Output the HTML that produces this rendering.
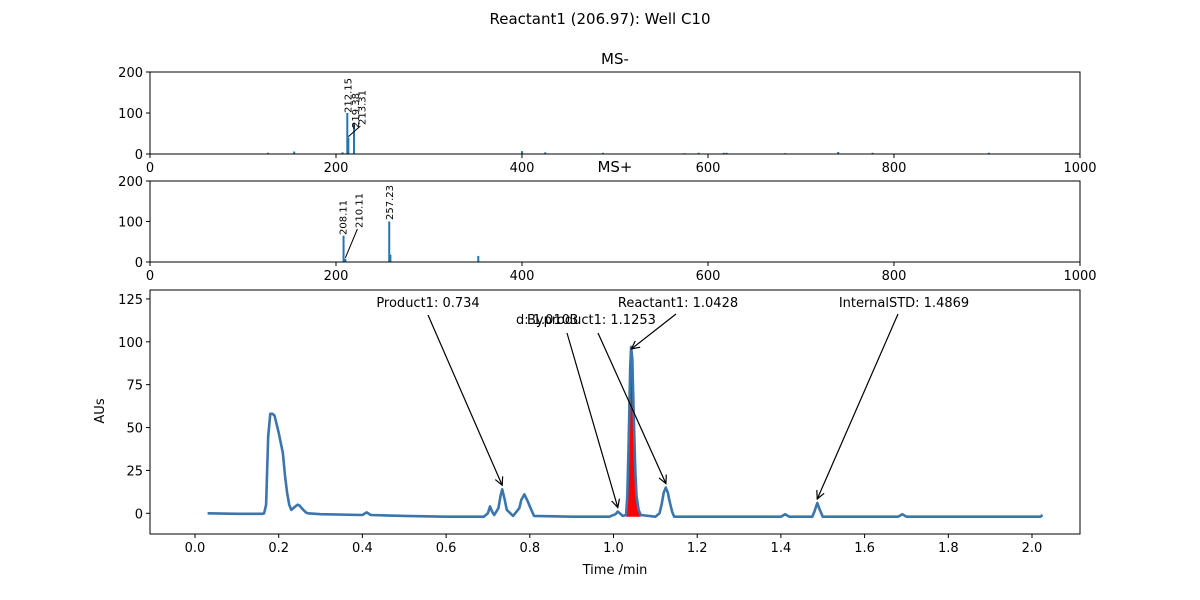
<!DOCTYPE html>
<html><head><meta charset="utf-8"><style>
body{margin:0;background:#fff;}
svg{display:block;font-family:"DejaVu Sans","Liberation Sans",sans-serif;}
</style></head><body>
<svg id="chart" width="1200" height="600" viewBox="0 0 1200 600">
<text x="600" y="24" font-size="15" text-anchor="middle">Reactant1 (206.97): Well C10</text>
<g id="msneg"></g>
<g id="mspos"></g>
<g id="chrom"></g>
</svg>
<script>
// MS- data
const msNegMz = [127,155,207,212.15,213.31,219.38,265,400,425,487,575,590,617,620,683,740,777,880,902];
const msNegInt = [3,6,4,100,40,72,1,7,4,3,2,3,3,3,2,5,3,1,3];
const msNegLabels = ["212.15","219.38","213.31"];
// MS+ data
const msPosMz = [208.11,210.11,257.23,258.5,353];
const msPosInt = [65,8,100,18,15];
const msPosLabels = ["208.11","210.11","257.23"];
const msTicks = [0,200,400,600,800,1000];
const msYTicks = [0,100,200];
// chromatogram data
const chromT = [0.03,0.1,0.16,0.165,0.17,0.175,0.18,0.185,0.19,0.2,0.21,0.215,0.22,0.225,0.23,0.24,0.245,0.25,0.255,0.265,0.27,0.3,0.4,0.41,0.42,0.5,0.6,0.69,0.7,0.705,0.71,0.715,0.725,0.73,0.734,0.74,0.745,0.76,0.775,0.78,0.787,0.795,0.8,0.81,0.9,0.99,1.005,1.01,1.015,1.022,1.03,1.033,1.036,1.04,1.042,1.045,1.048,1.052,1.055,1.06,1.065,1.1,1.11,1.115,1.12,1.125,1.13,1.133,1.14,1.145,1.2,1.4,1.41,1.42,1.475,1.48,1.487,1.493,1.5,1.68,1.69,1.7,2.02,2.025];
const chromY = [0,-0.3,-0.3,0,5,45,58,58,57,47,35,22,12,5,2,4,5,4.5,3,0.5,0,-0.5,-1,0.5,-1,-1.5,-2,-2,0,4,1,-1,3,10,14,8,2,-1.5,3,8,11,7,4,-1.5,-2,-2,-0.5,1,0,-1.5,-1,10,40,85,97,90,60,25,10,2,-1,-2,0,5,12,15,12,8,1,-2,-2,-2,-0.5,-2,-2,1,6,2,-2,-2,-0.5,-2,-2,-1];
const chromXTicks = [0.0,0.2,0.4,0.6,0.8,1.0,1.2,1.4,1.6,1.8,2.0];
const chromYTicks = [0,25,50,75,100,125];
const peakNames = ["Product1: 0.734","d: 1.0103","Byproduct1: 1.1253","Reactant1: 1.0428","InternalSTD: 1.4869"];
const peakT = [0.734,1.0103,1.1253,1.0428,1.4869];
const peakY = [14,1,15,97,6];
const fillRange = [1.03,1.065];

const NS="http://www.w3.org/2000/svg";
function mk(tag,attrs,parent,txt){const e=document.createElementNS(NS,tag);for(const k in attrs)e.setAttribute(k,attrs[k]);if(txt!==undefined)e.textContent=txt;parent.appendChild(e);return e;}

function msPanel(g,top,bottom,mz,inten,labels,labDx,labY,title,titleY){
  const L=150,R=1080;
  const x=v=>L+(v/1000)*(R-L);
  const y=v=>bottom-(v/200)*(bottom-top);
  mz.forEach((m,i)=>{
    const b=mk('rect',{x:x(m)-1,y:y(inten[i]),width:2,height:bottom-y(inten[i]),fill:'#1f77b4'},g);
    
    
  });
  labels.forEach((lab,i)=>{
    const m=parseFloat(lab);
    const v=inten[mz.indexOf(m)];
    const lx=x(m)+labDx[i], ly=labY[i];
    if(Math.abs(ly-y(v))>3||Math.abs(labDx[i])>1){
      mk('line',{x1:x(m),y1:y(v)-1,x2:lx-1,y2:ly+1,stroke:'#000','stroke-width':1},g);
    }
    const t=mk('text',{x:lx+4,y:ly,'font-size':10,transform:`rotate(-90 ${lx+4} ${ly})`},g,lab);
    
    
  });
  mk('rect',{x:L,y:top,width:R-L,height:bottom-top,fill:'none',stroke:'#000','stroke-width':1},g);
  msTicks.forEach(t=>{mk('line',{x1:x(t),y1:bottom,x2:x(t),y2:bottom+4,stroke:'#000'},g);
    const tl=mk('text',{x:x(t),y:bottom+18,'font-size':13,'text-anchor':'middle'},g,String(t));
    });
  msYTicks.forEach(t=>{mk('line',{x1:L-4,y1:y(t),x2:L,y2:y(t),stroke:'#000'},g);
    const tl=mk('text',{x:L-7,y:y(t)+5,'font-size':13,'text-anchor':'end'},g,String(t));
    });
  const tt=mk('text',{x:615,y:titleY,'font-size':15,'text-anchor':'middle'},g,title);
  
}
msPanel(document.getElementById('msneg'),72,154,msNegMz,msNegInt,msNegLabels,[0,1,13],[113,128,125],'MS-',64);
msPanel(document.getElementById('mspos'),181,262,msPosMz,msPosInt,msPosLabels,[-1,13,0],[235,228,220],'MS+',172);

(function(){
  const g=document.getElementById('chrom');
  const L=150,R=1080,T=290,B=534;
  const x=v=>195+v*418.5;
  const y=v=>513.3-v*1.715;
  let fp=[];
  chromT.forEach((t,i)=>{if(t>=fillRange[0]&&t<=fillRange[1])fp.push([x(t),y(chromY[i])]);});
  const fd='M'+fp[0][0]+','+y(-2)+' '+fp.map(p=>'L'+p[0]+','+p[1]).join(' ')+' L'+fp[fp.length-1][0]+','+y(-2)+'Z';
  const f=mk('path',{d:fd,fill:'#ff0000'},g);
  
  const d=chromT.map((t,i)=>(i?'L':'M')+x(t).toFixed(1)+','+y(chromY[i]).toFixed(1)).join(' ');
  const ln=mk('path',{d:d,fill:'none',stroke:'#3a76ad','stroke-width':2.6,'stroke-linejoin':'round'},g);
  
  mk('rect',{x:L,y:T,width:R-L,height:B-T,fill:'none',stroke:'#000'},g);
  chromXTicks.forEach(t=>{mk('line',{x1:x(t),y1:B,x2:x(t),y2:B+4,stroke:'#000'},g);
    const tl=mk('text',{x:x(t),y:B+18,'font-size':13,'text-anchor':'middle'},g,t.toFixed(1));
    });
  chromYTicks.forEach(t=>{mk('line',{x1:L-4,y1:y(t),x2:L,y2:y(t),stroke:'#000'},g);
    const tl=mk('text',{x:L-7,y:y(t)+5,'font-size':13,'text-anchor':'end'},g,String(t));
    });
  const xt=mk('text',{x:615,y:574,'font-size':13,'text-anchor':'middle'},g,'Time /min');
  
  const yt=mk('text',{x:104,y:411,'font-size':13,'text-anchor':'middle',transform:'rotate(-90 104 411)'},g,'AUs');
  
  const tx=[428,516,527,678,904], ta=['middle','start','start','middle','middle'], ty=[307,324,324,307,307], sx=[428,567,598,676,898], sy=[315,333,333,314,314];
  const defs=mk('defs',{},g);
  const mkr=mk('marker',{id:'ah',markerWidth:10,markerHeight:10,refX:9,refY:5,orient:'auto',markerUnits:'userSpaceOnUse'},defs);
  mk('path',{d:'M1,1 L9,5 L1,9',fill:'none',stroke:'#000','stroke-width':1.2},mkr);
  peakNames.forEach((n,i)=>{
    const t=mk('text',{x:tx[i],y:ty[i],'font-size':13,'text-anchor':ta[i]},g,n);
    
    const px=x(peakT[i]), py=y(peakY[i])-(i===3?-2:4);
    const a=mk('line',{x1:sx[i],y1:sy[i],x2:px,y2:py,stroke:'#000','stroke-width':1.2,'marker-end':'url(#ah)'},g);
    
  });
})();
</script>
</body></html>
